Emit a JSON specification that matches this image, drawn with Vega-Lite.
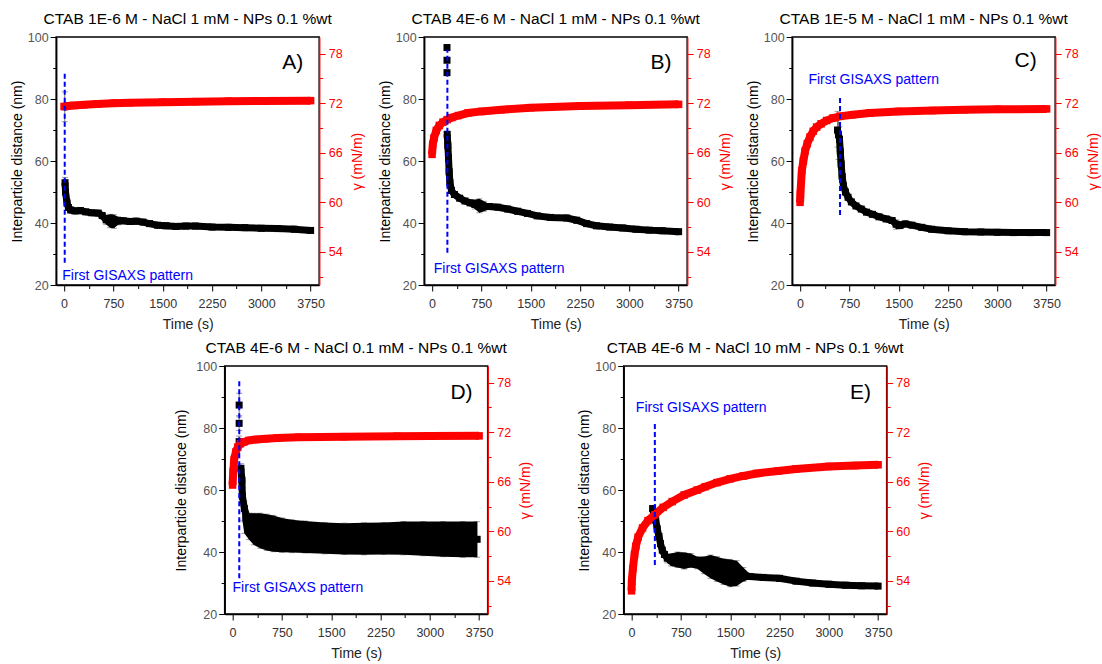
{
  "$schema": "https://vega.github.io/schema/vega-lite/v6.json",
  "background": "white",
  "padding": {"left": 9, "top": 10, "right": 0, "bottom": 0},
  "config": {
    "font": "Liberation Sans",
    "view": {"stroke": "#000", "strokeWidth": 1.5},
    "axis": {"grid": false, "domainColor": "#000", "domainWidth": 1.5, "tickColor": "#000", "tickWidth": 1, "labelFont": "Liberation Sans", "labelFontSize": 12.5, "labelColor": "#333", "titleFont": "Liberation Sans", "titleFontSize": 14, "titleFontWeight": "normal", "titleColor": "#000"},
    "title": {"font": "Liberation Sans", "fontSize": 15.5, "fontWeight": "normal", "color": "#000", "offset": 4}
  },
  "datasets": {
    "a_d": [
      {"t": 10, "d": 77.5, "lo": 72.7, "hi": 82.3},
      {"t": 15, "d": 53, "lo": 51.3, "hi": 54.7},
      {"t": 22, "d": 50, "lo": 48.8, "hi": 51.2},
      {"t": 45, "d": 46.5, "lo": 45.5, "hi": 47.5},
      {"t": 66, "d": 45, "lo": 44.2, "hi": 45.8},
      {"t": 100, "d": 44.2, "lo": 43.4, "hi": 45},
      {"t": 166, "d": 43.9, "lo": 43.1, "hi": 44.7},
      {"t": 250, "d": 44, "lo": 43.2, "hi": 44.8},
      {"t": 330, "d": 43.6, "lo": 42.8, "hi": 44.4},
      {"t": 420, "d": 43.3, "lo": 42.5, "hi": 44.1},
      {"t": 520, "d": 43.2, "lo": 42.4, "hi": 44},
      {"t": 580, "d": 42.4, "lo": 41.4, "hi": 43.4},
      {"t": 640, "d": 41, "lo": 39.5, "hi": 42.5},
      {"t": 700, "d": 40.6, "lo": 38.5, "hi": 42.8},
      {"t": 760, "d": 40.5, "lo": 38.3, "hi": 42.7},
      {"t": 820, "d": 40.7, "lo": 39.4, "hi": 42},
      {"t": 900, "d": 40.7, "lo": 39.9, "hi": 41.5},
      {"t": 1000, "d": 40.5, "lo": 39.7, "hi": 41.3},
      {"t": 1100, "d": 40.6, "lo": 39.8, "hi": 41.4},
      {"t": 1200, "d": 40.3, "lo": 39.5, "hi": 41.1},
      {"t": 1300, "d": 39.8, "lo": 39, "hi": 40.6},
      {"t": 1420, "d": 39.3, "lo": 38.5, "hi": 40.1},
      {"t": 1550, "d": 39.1, "lo": 38.3, "hi": 39.9},
      {"t": 1700, "d": 38.9, "lo": 38.1, "hi": 39.7},
      {"t": 1850, "d": 39, "lo": 38.2, "hi": 39.8},
      {"t": 2000, "d": 39, "lo": 38.2, "hi": 39.8},
      {"t": 2250, "d": 38.7, "lo": 37.9, "hi": 39.5},
      {"t": 2500, "d": 38.6, "lo": 37.8, "hi": 39.4},
      {"t": 2750, "d": 38.5, "lo": 37.7, "hi": 39.3},
      {"t": 3000, "d": 38.3, "lo": 37.5, "hi": 39.1},
      {"t": 3250, "d": 38.2, "lo": 37.4, "hi": 39},
      {"t": 3500, "d": 38, "lo": 37.2, "hi": 38.8},
      {"t": 3750, "d": 37.6, "lo": 36.8, "hi": 38.4}
    ],
    "a_g": [
      {"t": 0, "g": 71.6}, {"t": 50, "g": 71.65}, {"t": 150, "g": 71.72}, {"t": 300, "g": 71.8},
      {"t": 500, "g": 71.9}, {"t": 750, "g": 72.0}, {"t": 1000, "g": 72.05}, {"t": 1500, "g": 72.12},
      {"t": 2000, "g": 72.18}, {"t": 2500, "g": 72.23}, {"t": 3000, "g": 72.27}, {"t": 3750, "g": 72.3}
    ],
    "b_d": [
      {"t": 227, "d": 96.6, "lo": 96, "hi": 97.2},
      {"t": 227, "d": 92.5, "lo": 91.9, "hi": 93.1},
      {"t": 227, "d": 88.5, "lo": 87.9, "hi": 89.1},
      {"t": 230, "d": 68.6, "lo": 67.6, "hi": 69.6},
      {"t": 240, "d": 65, "lo": 64, "hi": 66},
      {"t": 250, "d": 61, "lo": 60, "hi": 62},
      {"t": 260, "d": 56.5, "lo": 55.5, "hi": 57.5},
      {"t": 272, "d": 53, "lo": 52, "hi": 54},
      {"t": 295, "d": 50.5, "lo": 49.7, "hi": 51.3},
      {"t": 340, "d": 49.2, "lo": 48.4, "hi": 50},
      {"t": 420, "d": 48, "lo": 47.2, "hi": 48.8},
      {"t": 500, "d": 47.1, "lo": 46.3, "hi": 47.9},
      {"t": 580, "d": 46.5, "lo": 45.7, "hi": 47.3},
      {"t": 650, "d": 46, "lo": 44.5, "hi": 47.5},
      {"t": 720, "d": 45.6, "lo": 43.3, "hi": 47.8},
      {"t": 790, "d": 45.3, "lo": 43.8, "hi": 47},
      {"t": 870, "d": 45.3, "lo": 44.5, "hi": 46.1},
      {"t": 1000, "d": 45.1, "lo": 44.3, "hi": 45.9},
      {"t": 1150, "d": 44.5, "lo": 43.7, "hi": 45.3},
      {"t": 1300, "d": 43.8, "lo": 43, "hi": 44.6},
      {"t": 1450, "d": 43.1, "lo": 42.3, "hi": 43.9},
      {"t": 1600, "d": 42.3, "lo": 41.5, "hi": 43.1},
      {"t": 1800, "d": 41.8, "lo": 41, "hi": 42.6},
      {"t": 2050, "d": 41.6, "lo": 40.8, "hi": 42.4},
      {"t": 2200, "d": 40.9, "lo": 40.1, "hi": 41.7},
      {"t": 2350, "d": 39.8, "lo": 39, "hi": 40.6},
      {"t": 2500, "d": 39.1, "lo": 38.3, "hi": 39.9},
      {"t": 2700, "d": 38.7, "lo": 37.9, "hi": 39.5},
      {"t": 2900, "d": 38.4, "lo": 37.6, "hi": 39.2},
      {"t": 3100, "d": 38, "lo": 37.2, "hi": 38.8},
      {"t": 3300, "d": 37.7, "lo": 36.9, "hi": 38.5},
      {"t": 3500, "d": 37.5, "lo": 36.7, "hi": 38.3},
      {"t": 3750, "d": 37.2, "lo": 36.4, "hi": 38}
    ],
    "b_g": [
      {"t": 0, "g": 65.8}, {"t": 10, "g": 67}, {"t": 30, "g": 67.8}, {"t": 65, "g": 68.7},
      {"t": 110, "g": 69.3}, {"t": 166, "g": 69.7}, {"t": 230, "g": 70}, {"t": 300, "g": 70.25},
      {"t": 400, "g": 70.5}, {"t": 544, "g": 70.8}, {"t": 750, "g": 71}, {"t": 1048, "g": 71.2},
      {"t": 1500, "g": 71.45}, {"t": 2250, "g": 71.65}, {"t": 3000, "g": 71.75}, {"t": 3750, "g": 71.85}
    ],
    "c_d": [
      {"t": 570, "d": 70, "lo": 64.5, "hi": 76},
      {"t": 585, "d": 68.5, "lo": 60.5, "hi": 75},
      {"t": 600, "d": 67, "lo": 63, "hi": 71},
      {"t": 612, "d": 63, "lo": 61.5, "hi": 64.5},
      {"t": 625, "d": 59, "lo": 58, "hi": 60},
      {"t": 640, "d": 55, "lo": 54, "hi": 56},
      {"t": 660, "d": 52, "lo": 51.2, "hi": 52.8},
      {"t": 690, "d": 50, "lo": 49.2, "hi": 50.8},
      {"t": 730, "d": 48.3, "lo": 47.5, "hi": 49.1},
      {"t": 780, "d": 46.8, "lo": 46, "hi": 47.6},
      {"t": 850, "d": 45.5, "lo": 44.7, "hi": 46.3},
      {"t": 930, "d": 44.5, "lo": 43.7, "hi": 45.3},
      {"t": 1010, "d": 43.5, "lo": 42.7, "hi": 44.3},
      {"t": 1100, "d": 42.8, "lo": 42, "hi": 43.6},
      {"t": 1200, "d": 42, "lo": 41.2, "hi": 42.8},
      {"t": 1310, "d": 41.3, "lo": 40.5, "hi": 42.1},
      {"t": 1400, "d": 40.8, "lo": 40, "hi": 41.6},
      {"t": 1460, "d": 39.6, "lo": 38, "hi": 41},
      {"t": 1520, "d": 39.2, "lo": 38.2, "hi": 40.5},
      {"t": 1600, "d": 39.7, "lo": 38.9, "hi": 40.5},
      {"t": 1700, "d": 39.3, "lo": 38.5, "hi": 40.1},
      {"t": 1850, "d": 38.6, "lo": 37.8, "hi": 39.4},
      {"t": 2000, "d": 38, "lo": 37.2, "hi": 38.8},
      {"t": 2250, "d": 37.5, "lo": 36.7, "hi": 38.3},
      {"t": 2500, "d": 37.2, "lo": 36.4, "hi": 38},
      {"t": 2750, "d": 37.1, "lo": 36.3, "hi": 37.9},
      {"t": 3000, "d": 37, "lo": 36.2, "hi": 37.8},
      {"t": 3250, "d": 36.9, "lo": 36.1, "hi": 37.7},
      {"t": 3500, "d": 36.9, "lo": 36.1, "hi": 37.7},
      {"t": 3750, "d": 36.9, "lo": 36.1, "hi": 37.7}
    ],
    "c_g": [
      {"t": 0, "g": 60}, {"t": 5, "g": 61}, {"t": 26, "g": 63.8}, {"t": 50, "g": 65},
      {"t": 76, "g": 66.2}, {"t": 110, "g": 67.1}, {"t": 151, "g": 67.9}, {"t": 200, "g": 68.6},
      {"t": 252, "g": 69.1}, {"t": 320, "g": 69.5}, {"t": 404, "g": 69.9}, {"t": 500, "g": 70.2},
      {"t": 605, "g": 70.4}, {"t": 800, "g": 70.6}, {"t": 1059, "g": 70.8}, {"t": 1500, "g": 71},
      {"t": 2017, "g": 71.1}, {"t": 2500, "g": 71.2}, {"t": 3000, "g": 71.25}, {"t": 3750, "g": 71.3}
    ],
    "d_d": [
      {"t": 100, "d": 87.4, "lo": 84, "hi": 91.2},
      {"t": 100, "d": 81.5, "lo": 79.2, "hi": 83.6},
      {"t": 100, "d": 75.6, "lo": 73.8, "hi": 77.4},
      {"t": 127, "d": 67, "lo": 65.5, "hi": 68.5},
      {"t": 142, "d": 63.2, "lo": 61.5, "hi": 65},
      {"t": 150, "d": 58, "lo": 50, "hi": 61},
      {"t": 180, "d": 54, "lo": 46, "hi": 56.5},
      {"t": 250, "d": 49, "lo": 44, "hi": 52.5},
      {"t": 320, "d": 47.5, "lo": 42.3, "hi": 52.5},
      {"t": 420, "d": 46.5, "lo": 41.2, "hi": 52.5},
      {"t": 520, "d": 45.8, "lo": 40.5, "hi": 52.2},
      {"t": 620, "d": 45.3, "lo": 40.1, "hi": 51.8},
      {"t": 750, "d": 45, "lo": 39.9, "hi": 51},
      {"t": 900, "d": 44.8, "lo": 39.8, "hi": 50.4},
      {"t": 1100, "d": 44.6, "lo": 39.7, "hi": 50},
      {"t": 1400, "d": 44.3, "lo": 39.4, "hi": 49.5},
      {"t": 1700, "d": 44.2, "lo": 39.2, "hi": 49.3},
      {"t": 2000, "d": 44.2, "lo": 39.1, "hi": 49.4},
      {"t": 2300, "d": 44.3, "lo": 39.2, "hi": 49.5},
      {"t": 2600, "d": 44.3, "lo": 39.1, "hi": 49.8},
      {"t": 2900, "d": 44.2, "lo": 38.8, "hi": 49.8},
      {"t": 3200, "d": 44.1, "lo": 38.5, "hi": 49.8},
      {"t": 3500, "d": 44, "lo": 38.3, "hi": 49.8},
      {"t": 3720, "d": 44.1, "lo": 38.3, "hi": 49.8}
    ],
    "d_g": [
      {"t": 0, "g": 65.6}, {"t": 10, "g": 67.2}, {"t": 25, "g": 68.7}, {"t": 50, "g": 69.6},
      {"t": 80, "g": 70.2}, {"t": 120, "g": 70.6}, {"t": 170, "g": 70.8}, {"t": 250, "g": 71},
      {"t": 350, "g": 71.1}, {"t": 500, "g": 71.2}, {"t": 684, "g": 71.3}, {"t": 1000, "g": 71.38},
      {"t": 1700, "g": 71.45}, {"t": 2500, "g": 71.5}, {"t": 3000, "g": 71.52}, {"t": 3750, "g": 71.55}
    ],
    "e_d": [
      {"t": 320, "d": 54, "lo": 53, "hi": 55},
      {"t": 335, "d": 53, "lo": 52.2, "hi": 53.8},
      {"t": 350, "d": 51.5, "lo": 50.7, "hi": 52.3},
      {"t": 367, "d": 50.3, "lo": 49.5, "hi": 51.1},
      {"t": 390, "d": 47.5, "lo": 46.7, "hi": 48.3},
      {"t": 417, "d": 45, "lo": 44.2, "hi": 45.8},
      {"t": 440, "d": 42.7, "lo": 41.9, "hi": 43.5},
      {"t": 467, "d": 40.6, "lo": 39.8, "hi": 41.4},
      {"t": 500, "d": 39.2, "lo": 38.4, "hi": 40},
      {"t": 543, "d": 38, "lo": 36.5, "hi": 39.2},
      {"t": 600, "d": 37.4, "lo": 35.5, "hi": 39.5},
      {"t": 700, "d": 37.2, "lo": 35, "hi": 40},
      {"t": 800, "d": 37, "lo": 34.5, "hi": 39.8},
      {"t": 900, "d": 37.2, "lo": 35, "hi": 39.5},
      {"t": 1000, "d": 36.5, "lo": 34.6, "hi": 38.5},
      {"t": 1100, "d": 36, "lo": 33, "hi": 38.5},
      {"t": 1200, "d": 35.4, "lo": 31.5, "hi": 39},
      {"t": 1300, "d": 34.6, "lo": 30.5, "hi": 38.5},
      {"t": 1400, "d": 33.5, "lo": 29.5, "hi": 37.8},
      {"t": 1500, "d": 33, "lo": 28.8, "hi": 37.6},
      {"t": 1600, "d": 32.8, "lo": 29, "hi": 37.2},
      {"t": 1700, "d": 32.5, "lo": 30.5, "hi": 35},
      {"t": 1800, "d": 32.1, "lo": 31.3, "hi": 32.9},
      {"t": 2000, "d": 31.8, "lo": 31, "hi": 32.6},
      {"t": 2250, "d": 31.5, "lo": 30.7, "hi": 32.3},
      {"t": 2500, "d": 30.6, "lo": 29.8, "hi": 31.4},
      {"t": 2750, "d": 30, "lo": 29.2, "hi": 30.8},
      {"t": 3000, "d": 29.6, "lo": 28.8, "hi": 30.4},
      {"t": 3250, "d": 29.3, "lo": 28.5, "hi": 30.1},
      {"t": 3500, "d": 29.1, "lo": 28.3, "hi": 29.9},
      {"t": 3750, "d": 29, "lo": 28.2, "hi": 29.8}
    ],
    "e_g": [
      {"t": 0, "g": 52.8}, {"t": 3, "g": 53.9}, {"t": 20, "g": 55.5}, {"t": 45, "g": 57.2},
      {"t": 65, "g": 58.2}, {"t": 100, "g": 59.3}, {"t": 166, "g": 60.4}, {"t": 250, "g": 61.3},
      {"t": 352, "g": 62}, {"t": 480, "g": 62.9}, {"t": 618, "g": 63.6}, {"t": 800, "g": 64.4},
      {"t": 1000, "g": 65}, {"t": 1121, "g": 65.4}, {"t": 1300, "g": 65.9}, {"t": 1500, "g": 66.35},
      {"t": 1700, "g": 66.7}, {"t": 1900, "g": 67}, {"t": 2227, "g": 67.3}, {"t": 2500, "g": 67.55},
      {"t": 3000, "g": 67.85}, {"t": 3400, "g": 67.95}, {"t": 3750, "g": 68.05}
    ],
    "notes": [
      {"panel": "A", "kind": "first", "t": 10, "lo": 27.2, "hi": 88.5},
      {"panel": "A", "kind": "caption", "t": -27, "d": 23, "text": "First GISAXS pattern"},
      {"panel": "A", "kind": "tag", "t": 3638, "d": 91.7, "text": "A)"},
      {"panel": "B", "kind": "first", "t": 233, "lo": 30.4, "hi": 96},
      {"panel": "B", "kind": "caption", "t": 26, "d": 25.1, "text": "First GISAXS pattern"},
      {"panel": "B", "kind": "tag", "t": 3640, "d": 91.7, "text": "B)"},
      {"panel": "C", "kind": "first", "t": 608, "lo": 42.6, "hi": 80.4},
      {"panel": "C", "kind": "caption", "t": 127, "d": 86, "text": "First GISAXS pattern"},
      {"panel": "C", "kind": "tag", "t": 3600, "d": 92.3, "text": "C)"},
      {"panel": "D", "kind": "first", "t": 102, "lo": 31.5, "hi": 96},
      {"panel": "D", "kind": "caption", "t": 0, "d": 28.3, "text": "First GISAXS pattern"},
      {"panel": "D", "kind": "tag", "t": 3650, "d": 91.4, "text": "D)"},
      {"panel": "E", "kind": "first", "t": 354, "lo": 35.8, "hi": 82},
      {"panel": "E", "kind": "caption", "t": 65, "d": 86.4, "text": "First GISAXS pattern"},
      {"panel": "E", "kind": "tag", "t": 3640, "d": 91.4, "text": "E)"}
    ]
  },
  "center": true,
  "spacing": 6,
  "vconcat": [
    {
      "spacing": 12,
      "hconcat": [
        {
          "title": "CTAB 1E-6 M - NaCl 1 mM - NPs 0.1 %wt",
          "width": 263, "height": 248,
          "encoding": {"x": {"field": "t", "type": "quantitative", "scale": {"domain": [-120, 3880], "nice": false, "zero": false}, "axis": {"title": "Time (s)", "titleColor": "#222", "values": [0, 375, 750, 1125, 1500, 1875, 2250, 2625, 3000, 3375, 3750], "format": "d", "labelExpr": "datum.value % 750 === 0 ? datum.label : ''", "tickSize": {"condition": {"test": "datum.value % 750 !== 0", "value": 3.5}, "value": 6}, "labelPadding": 6, "titlePadding": 8}}},
          "layer": [
            {"data": {"name": "a_d"}, "mark": {"type": "rule", "color": "#777", "strokeWidth": 1}, "encoding": {"y": {"field": "lo", "type": "quantitative", "scale": {"domain": [20, 100], "nice": false, "zero": false}, "axis": {"orient": "left", "title": "Interparticle distance (nm)", "values": [20, 30, 40, 50, 60, 70, 80, 90, 100], "labelExpr": "datum.value % 20 === 0 ? datum.label : ''", "tickSize": {"condition": {"test": "datum.value % 20 !== 0", "value": 3.5}, "value": 6}, "labelColor": "#555", "labelPadding": 2, "titlePadding": 3}}, "y2": {"field": "hi"}}},
            {"data": {"name": "a_d"}, "mark": {"type": "tick", "orient": "horizontal", "color": "#777", "thickness": 1, "size": 6}, "encoding": {"y": {"field": "lo", "type": "quantitative", "scale": {"domain": [20, 100], "nice": false, "zero": false}, "axis": null}}},
            {"data": {"name": "a_d"}, "mark": {"type": "tick", "orient": "horizontal", "color": "#777", "thickness": 1, "size": 6}, "encoding": {"y": {"field": "hi", "type": "quantitative", "scale": {"domain": [20, 100], "nice": false, "zero": false}, "axis": null}}},
            {"data": {"name": "a_d"}, "transform": [{"filter": "datum.d < 60"}], "mark": {"type": "area", "color": "#000", "opacity": 1}, "encoding": {"y": {"field": "lo", "type": "quantitative", "scale": {"domain": [20, 100], "nice": false, "zero": false}, "axis": null}, "y2": {"field": "hi"}}},
            {"data": {"name": "a_d"}, "transform": [{"filter": "datum.d < 60"}], "mark": {"type": "line", "color": "#000", "strokeWidth": 7}, "encoding": {"y": {"field": "d", "type": "quantitative", "scale": {"domain": [20, 100], "nice": false, "zero": false}, "axis": null}}},
            {"data": {"name": "a_d"}, "mark": {"type": "point", "shape": "square", "filled": true, "color": "#000", "size": 49, "opacity": 1}, "encoding": {"y": {"field": "d", "type": "quantitative", "scale": {"domain": [20, 100], "nice": false, "zero": false}, "axis": null}}},
            {"data": {"name": "a_g"}, "mark": {"type": "line", "color": "#ff0000", "strokeWidth": 8}, "encoding": {"y": {"field": "g", "type": "quantitative", "scale": {"domain": [50, 80], "nice": false, "zero": false}, "axis": {"orient": "right", "title": "γ (mN/m)", "values": [51, 54, 57, 60, 63, 66, 69, 72, 75, 78], "labelExpr": "(datum.value - 54) % 6 === 0 ? datum.label : ''", "tickSize": {"condition": {"test": "(datum.value - 54) % 6 !== 0", "value": 3.5}, "value": 6}, "domainColor": "#ff0000", "tickColor": "#ff0000", "labelColor": "#ff0000", "titleColor": "#ff0000", "titleAngle": -90, "titleBaseline": "top", "labelPadding": 3, "titlePadding": 8}}}},
            {"data": {"name": "a_g"}, "mark": {"type": "point", "shape": "square", "filled": true, "color": "#ff0000", "size": 56, "opacity": 1}, "encoding": {"y": {"field": "g", "type": "quantitative", "scale": {"domain": [50, 80], "nice": false, "zero": false}, "axis": null}}},
            {"data": {"name": "notes"}, "transform": [{"filter": "datum.panel === 'A' && datum.kind === 'first'"}], "mark": {"type": "rule", "color": "#0000ff", "strokeWidth": 2, "strokeDash": [5, 3]}, "encoding": {"y": {"field": "lo", "type": "quantitative", "scale": {"domain": [20, 100], "nice": false, "zero": false}, "axis": null}, "y2": {"field": "hi"}}},
            {"data": {"name": "notes"}, "transform": [{"filter": "datum.panel === 'A' && datum.kind === 'caption'"}], "mark": {"type": "text", "color": "#0000ff", "fontSize": 14, "align": "left", "baseline": "middle"}, "encoding": {"y": {"field": "d", "type": "quantitative", "scale": {"domain": [20, 100], "nice": false, "zero": false}, "axis": null}, "text": {"field": "text"}}},
            {"data": {"name": "notes"}, "transform": [{"filter": "datum.panel === 'A' && datum.kind === 'tag'"}], "mark": {"type": "text", "color": "#000", "fontSize": 21, "align": "right", "baseline": "middle"}, "encoding": {"y": {"field": "d", "type": "quantitative", "scale": {"domain": [20, 100], "nice": false, "zero": false}, "axis": null}, "text": {"field": "text"}}}
          ],
          "resolve": {"scale": {"y": "independent"}}
        },
        {
          "title": "CTAB 4E-6 M - NaCl 1 mM - NPs 0.1 %wt",
          "width": 263, "height": 248,
          "encoding": {"x": {"field": "t", "type": "quantitative", "scale": {"domain": [-120, 3880], "nice": false, "zero": false}, "axis": {"title": "Time (s)", "titleColor": "#222", "values": [0, 375, 750, 1125, 1500, 1875, 2250, 2625, 3000, 3375, 3750], "format": "d", "labelExpr": "datum.value % 750 === 0 ? datum.label : ''", "tickSize": {"condition": {"test": "datum.value % 750 !== 0", "value": 3.5}, "value": 6}, "labelPadding": 6, "titlePadding": 8}}},
          "layer": [
            {"data": {"name": "b_d"}, "mark": {"type": "rule", "color": "#777", "strokeWidth": 1}, "encoding": {"y": {"field": "lo", "type": "quantitative", "scale": {"domain": [20, 100], "nice": false, "zero": false}, "axis": {"orient": "left", "title": "Interparticle distance (nm)", "values": [20, 30, 40, 50, 60, 70, 80, 90, 100], "labelExpr": "datum.value % 20 === 0 ? datum.label : ''", "tickSize": {"condition": {"test": "datum.value % 20 !== 0", "value": 3.5}, "value": 6}, "labelColor": "#555", "labelPadding": 2, "titlePadding": 3}}, "y2": {"field": "hi"}}},
            {"data": {"name": "b_d"}, "mark": {"type": "tick", "orient": "horizontal", "color": "#777", "thickness": 1, "size": 6}, "encoding": {"y": {"field": "lo", "type": "quantitative", "scale": {"domain": [20, 100], "nice": false, "zero": false}, "axis": null}}},
            {"data": {"name": "b_d"}, "mark": {"type": "tick", "orient": "horizontal", "color": "#777", "thickness": 1, "size": 6}, "encoding": {"y": {"field": "hi", "type": "quantitative", "scale": {"domain": [20, 100], "nice": false, "zero": false}, "axis": null}}},
            {"data": {"name": "b_d"}, "transform": [{"filter": "datum.d < 80"}], "mark": {"type": "area", "color": "#000", "opacity": 1}, "encoding": {"y": {"field": "lo", "type": "quantitative", "scale": {"domain": [20, 100], "nice": false, "zero": false}, "axis": null}, "y2": {"field": "hi"}}},
            {"data": {"name": "b_d"}, "transform": [{"filter": "datum.d < 80"}], "mark": {"type": "line", "color": "#000", "strokeWidth": 7}, "encoding": {"y": {"field": "d", "type": "quantitative", "scale": {"domain": [20, 100], "nice": false, "zero": false}, "axis": null}}},
            {"data": {"name": "b_d"}, "mark": {"type": "point", "shape": "square", "filled": true, "color": "#000", "size": 49, "opacity": 1}, "encoding": {"y": {"field": "d", "type": "quantitative", "scale": {"domain": [20, 100], "nice": false, "zero": false}, "axis": null}}},
            {"data": {"name": "b_g"}, "mark": {"type": "line", "color": "#ff0000", "strokeWidth": 8}, "encoding": {"y": {"field": "g", "type": "quantitative", "scale": {"domain": [50, 80], "nice": false, "zero": false}, "axis": {"orient": "right", "title": "γ (mN/m)", "values": [51, 54, 57, 60, 63, 66, 69, 72, 75, 78], "labelExpr": "(datum.value - 54) % 6 === 0 ? datum.label : ''", "tickSize": {"condition": {"test": "(datum.value - 54) % 6 !== 0", "value": 3.5}, "value": 6}, "domainColor": "#ff0000", "tickColor": "#ff0000", "labelColor": "#ff0000", "titleColor": "#ff0000", "titleAngle": -90, "titleBaseline": "top", "labelPadding": 3, "titlePadding": 8}}}},
            {"data": {"name": "b_g"}, "mark": {"type": "point", "shape": "square", "filled": true, "color": "#ff0000", "size": 56, "opacity": 1}, "encoding": {"y": {"field": "g", "type": "quantitative", "scale": {"domain": [50, 80], "nice": false, "zero": false}, "axis": null}}},
            {"data": {"name": "notes"}, "transform": [{"filter": "datum.panel === 'B' && datum.kind === 'first'"}], "mark": {"type": "rule", "color": "#0000ff", "strokeWidth": 2, "strokeDash": [5, 3]}, "encoding": {"y": {"field": "lo", "type": "quantitative", "scale": {"domain": [20, 100], "nice": false, "zero": false}, "axis": null}, "y2": {"field": "hi"}}},
            {"data": {"name": "notes"}, "transform": [{"filter": "datum.panel === 'B' && datum.kind === 'caption'"}], "mark": {"type": "text", "color": "#0000ff", "fontSize": 14, "align": "left", "baseline": "middle"}, "encoding": {"y": {"field": "d", "type": "quantitative", "scale": {"domain": [20, 100], "nice": false, "zero": false}, "axis": null}, "text": {"field": "text"}}},
            {"data": {"name": "notes"}, "transform": [{"filter": "datum.panel === 'B' && datum.kind === 'tag'"}], "mark": {"type": "text", "color": "#000", "fontSize": 21, "align": "right", "baseline": "middle"}, "encoding": {"y": {"field": "d", "type": "quantitative", "scale": {"domain": [20, 100], "nice": false, "zero": false}, "axis": null}, "text": {"field": "text"}}}
          ],
          "resolve": {"scale": {"y": "independent"}}
        },
        {
          "title": "CTAB 1E-5 M - NaCl 1 mM - NPs 0.1 %wt",
          "width": 263, "height": 248,
          "encoding": {"x": {"field": "t", "type": "quantitative", "scale": {"domain": [-120, 3880], "nice": false, "zero": false}, "axis": {"title": "Time (s)", "titleColor": "#222", "values": [0, 375, 750, 1125, 1500, 1875, 2250, 2625, 3000, 3375, 3750], "format": "d", "labelExpr": "datum.value % 750 === 0 ? datum.label : ''", "tickSize": {"condition": {"test": "datum.value % 750 !== 0", "value": 3.5}, "value": 6}, "labelPadding": 6, "titlePadding": 8}}},
          "layer": [
            {"data": {"name": "c_d"}, "mark": {"type": "rule", "color": "#777", "strokeWidth": 1}, "encoding": {"y": {"field": "lo", "type": "quantitative", "scale": {"domain": [20, 100], "nice": false, "zero": false}, "axis": {"orient": "left", "title": "Interparticle distance (nm)", "values": [20, 30, 40, 50, 60, 70, 80, 90, 100], "labelExpr": "datum.value % 20 === 0 ? datum.label : ''", "tickSize": {"condition": {"test": "datum.value % 20 !== 0", "value": 3.5}, "value": 6}, "labelColor": "#555", "labelPadding": 2, "titlePadding": 3}}, "y2": {"field": "hi"}}},
            {"data": {"name": "c_d"}, "mark": {"type": "tick", "orient": "horizontal", "color": "#777", "thickness": 1, "size": 6}, "encoding": {"y": {"field": "lo", "type": "quantitative", "scale": {"domain": [20, 100], "nice": false, "zero": false}, "axis": null}}},
            {"data": {"name": "c_d"}, "mark": {"type": "tick", "orient": "horizontal", "color": "#777", "thickness": 1, "size": 6}, "encoding": {"y": {"field": "hi", "type": "quantitative", "scale": {"domain": [20, 100], "nice": false, "zero": false}, "axis": null}}},
            {"data": {"name": "c_d"}, "transform": [{"filter": "datum.t > 605"}], "mark": {"type": "area", "color": "#000", "opacity": 1}, "encoding": {"y": {"field": "lo", "type": "quantitative", "scale": {"domain": [20, 100], "nice": false, "zero": false}, "axis": null}, "y2": {"field": "hi"}}},
            {"data": {"name": "c_d"}, "mark": {"type": "line", "color": "#000", "strokeWidth": 7}, "encoding": {"y": {"field": "d", "type": "quantitative", "scale": {"domain": [20, 100], "nice": false, "zero": false}, "axis": null}}},
            {"data": {"name": "c_d"}, "mark": {"type": "point", "shape": "square", "filled": true, "color": "#000", "size": 49, "opacity": 1}, "encoding": {"y": {"field": "d", "type": "quantitative", "scale": {"domain": [20, 100], "nice": false, "zero": false}, "axis": null}}},
            {"data": {"name": "c_g"}, "mark": {"type": "line", "color": "#ff0000", "strokeWidth": 8}, "encoding": {"y": {"field": "g", "type": "quantitative", "scale": {"domain": [50, 80], "nice": false, "zero": false}, "axis": {"orient": "right", "title": "γ (mN/m)", "values": [51, 54, 57, 60, 63, 66, 69, 72, 75, 78], "labelExpr": "(datum.value - 54) % 6 === 0 ? datum.label : ''", "tickSize": {"condition": {"test": "(datum.value - 54) % 6 !== 0", "value": 3.5}, "value": 6}, "domainColor": "#ff0000", "tickColor": "#ff0000", "labelColor": "#ff0000", "titleColor": "#ff0000", "titleAngle": -90, "titleBaseline": "top", "labelPadding": 3, "titlePadding": 8}}}},
            {"data": {"name": "c_g"}, "mark": {"type": "point", "shape": "square", "filled": true, "color": "#ff0000", "size": 56, "opacity": 1}, "encoding": {"y": {"field": "g", "type": "quantitative", "scale": {"domain": [50, 80], "nice": false, "zero": false}, "axis": null}}},
            {"data": {"name": "notes"}, "transform": [{"filter": "datum.panel === 'C' && datum.kind === 'first'"}], "mark": {"type": "rule", "color": "#0000ff", "strokeWidth": 2, "strokeDash": [5, 3]}, "encoding": {"y": {"field": "lo", "type": "quantitative", "scale": {"domain": [20, 100], "nice": false, "zero": false}, "axis": null}, "y2": {"field": "hi"}}},
            {"data": {"name": "notes"}, "transform": [{"filter": "datum.panel === 'C' && datum.kind === 'caption'"}], "mark": {"type": "text", "color": "#0000ff", "fontSize": 14, "align": "left", "baseline": "middle"}, "encoding": {"y": {"field": "d", "type": "quantitative", "scale": {"domain": [20, 100], "nice": false, "zero": false}, "axis": null}, "text": {"field": "text"}}},
            {"data": {"name": "notes"}, "transform": [{"filter": "datum.panel === 'C' && datum.kind === 'tag'"}], "mark": {"type": "text", "color": "#000", "fontSize": 21, "align": "right", "baseline": "middle"}, "encoding": {"y": {"field": "d", "type": "quantitative", "scale": {"domain": [20, 100], "nice": false, "zero": false}, "axis": null}, "text": {"field": "text"}}}
          ],
          "resolve": {"scale": {"y": "independent"}}
        }
      ]
    },
    {
      "spacing": 43,
      "hconcat": [
        {
          "title": "CTAB 4E-6 M - NaCl 0.1 mM - NPs 0.1 %wt",
          "width": 263, "height": 248,
          "encoding": {"x": {"field": "t", "type": "quantitative", "scale": {"domain": [-120, 3880], "nice": false, "zero": false}, "axis": {"title": "Time (s)", "titleColor": "#222", "values": [0, 375, 750, 1125, 1500, 1875, 2250, 2625, 3000, 3375, 3750], "format": "d", "labelExpr": "datum.value % 750 === 0 ? datum.label : ''", "tickSize": {"condition": {"test": "datum.value % 750 !== 0", "value": 3.5}, "value": 6}, "labelPadding": 6, "titlePadding": 8}}},
          "layer": [
            {"data": {"name": "d_d"}, "mark": {"type": "rule", "color": "#777", "strokeWidth": 1}, "encoding": {"y": {"field": "lo", "type": "quantitative", "scale": {"domain": [20, 100], "nice": false, "zero": false}, "axis": {"orient": "left", "title": "Interparticle distance (nm)", "values": [20, 30, 40, 50, 60, 70, 80, 90, 100], "labelExpr": "datum.value % 20 === 0 ? datum.label : ''", "tickSize": {"condition": {"test": "datum.value % 20 !== 0", "value": 3.5}, "value": 6}, "labelColor": "#555", "labelPadding": 2, "titlePadding": 7}}, "y2": {"field": "hi"}}},
            {"data": {"name": "d_d"}, "mark": {"type": "tick", "orient": "horizontal", "color": "#777", "thickness": 1, "size": 6}, "encoding": {"y": {"field": "lo", "type": "quantitative", "scale": {"domain": [20, 100], "nice": false, "zero": false}, "axis": null}}},
            {"data": {"name": "d_d"}, "mark": {"type": "tick", "orient": "horizontal", "color": "#777", "thickness": 1, "size": 6}, "encoding": {"y": {"field": "hi", "type": "quantitative", "scale": {"domain": [20, 100], "nice": false, "zero": false}, "axis": null}}},
            {"data": {"name": "d_d"}, "transform": [{"filter": "datum.t > 140"}], "mark": {"type": "area", "color": "#000", "opacity": 1}, "encoding": {"y": {"field": "lo", "type": "quantitative", "scale": {"domain": [20, 100], "nice": false, "zero": false}, "axis": null}, "y2": {"field": "hi"}}},
            {"data": {"name": "d_d"}, "transform": [{"filter": "datum.d < 70"}], "mark": {"type": "line", "color": "#000", "strokeWidth": 7}, "encoding": {"y": {"field": "d", "type": "quantitative", "scale": {"domain": [20, 100], "nice": false, "zero": false}, "axis": null}}},
            {"data": {"name": "d_d"}, "mark": {"type": "point", "shape": "square", "filled": true, "color": "#000", "size": 49, "opacity": 1}, "encoding": {"y": {"field": "d", "type": "quantitative", "scale": {"domain": [20, 100], "nice": false, "zero": false}, "axis": null}}},
            {"data": {"name": "d_g"}, "mark": {"type": "line", "color": "#ff0000", "strokeWidth": 8}, "encoding": {"y": {"field": "g", "type": "quantitative", "scale": {"domain": [50, 80], "nice": false, "zero": false}, "axis": {"orient": "right", "title": "γ (mN/m)", "values": [51, 54, 57, 60, 63, 66, 69, 72, 75, 78], "labelExpr": "(datum.value - 54) % 6 === 0 ? datum.label : ''", "tickSize": {"condition": {"test": "(datum.value - 54) % 6 !== 0", "value": 3.5}, "value": 6}, "domainColor": "#ff0000", "tickColor": "#ff0000", "labelColor": "#ff0000", "titleColor": "#ff0000", "titleAngle": -90, "titleBaseline": "top", "labelPadding": 3, "titlePadding": 8}}}},
            {"data": {"name": "d_g"}, "mark": {"type": "point", "shape": "square", "filled": true, "color": "#ff0000", "size": 56, "opacity": 1}, "encoding": {"y": {"field": "g", "type": "quantitative", "scale": {"domain": [50, 80], "nice": false, "zero": false}, "axis": null}}},
            {"data": {"name": "notes"}, "transform": [{"filter": "datum.panel === 'D' && datum.kind === 'first'"}], "mark": {"type": "rule", "color": "#0000ff", "strokeWidth": 2, "strokeDash": [5, 3]}, "encoding": {"y": {"field": "lo", "type": "quantitative", "scale": {"domain": [20, 100], "nice": false, "zero": false}, "axis": null}, "y2": {"field": "hi"}}},
            {"data": {"name": "notes"}, "transform": [{"filter": "datum.panel === 'D' && datum.kind === 'caption'"}], "mark": {"type": "text", "color": "#0000ff", "fontSize": 14, "align": "left", "baseline": "middle"}, "encoding": {"y": {"field": "d", "type": "quantitative", "scale": {"domain": [20, 100], "nice": false, "zero": false}, "axis": null}, "text": {"field": "text"}}},
            {"data": {"name": "notes"}, "transform": [{"filter": "datum.panel === 'D' && datum.kind === 'tag'"}], "mark": {"type": "text", "color": "#000", "fontSize": 21, "align": "right", "baseline": "middle"}, "encoding": {"y": {"field": "d", "type": "quantitative", "scale": {"domain": [20, 100], "nice": false, "zero": false}, "axis": null}, "text": {"field": "text"}}}
          ],
          "resolve": {"scale": {"y": "independent"}}
        },
        {
          "title": "CTAB 4E-6 M - NaCl 10 mM - NPs 0.1 %wt",
          "width": 263, "height": 248,
          "encoding": {"x": {"field": "t", "type": "quantitative", "scale": {"domain": [-120, 3880], "nice": false, "zero": false}, "axis": {"title": "Time (s)", "titleColor": "#222", "values": [0, 375, 750, 1125, 1500, 1875, 2250, 2625, 3000, 3375, 3750], "format": "d", "labelExpr": "datum.value % 750 === 0 ? datum.label : ''", "tickSize": {"condition": {"test": "datum.value % 750 !== 0", "value": 3.5}, "value": 6}, "labelPadding": 6, "titlePadding": 8}}},
          "layer": [
            {"data": {"name": "e_d"}, "mark": {"type": "rule", "color": "#777", "strokeWidth": 1}, "encoding": {"y": {"field": "lo", "type": "quantitative", "scale": {"domain": [20, 100], "nice": false, "zero": false}, "axis": {"orient": "left", "title": "Interparticle distance (nm)", "values": [20, 30, 40, 50, 60, 70, 80, 90, 100], "labelExpr": "datum.value % 20 === 0 ? datum.label : ''", "tickSize": {"condition": {"test": "datum.value % 20 !== 0", "value": 3.5}, "value": 6}, "labelColor": "#555", "labelPadding": 2, "titlePadding": 3}}, "y2": {"field": "hi"}}},
            {"data": {"name": "e_d"}, "mark": {"type": "tick", "orient": "horizontal", "color": "#777", "thickness": 1, "size": 6}, "encoding": {"y": {"field": "lo", "type": "quantitative", "scale": {"domain": [20, 100], "nice": false, "zero": false}, "axis": null}}},
            {"data": {"name": "e_d"}, "mark": {"type": "tick", "orient": "horizontal", "color": "#777", "thickness": 1, "size": 6}, "encoding": {"y": {"field": "hi", "type": "quantitative", "scale": {"domain": [20, 100], "nice": false, "zero": false}, "axis": null}}},
            {"data": {"name": "e_d"}, "mark": {"type": "area", "color": "#000", "opacity": 1}, "encoding": {"y": {"field": "lo", "type": "quantitative", "scale": {"domain": [20, 100], "nice": false, "zero": false}, "axis": null}, "y2": {"field": "hi"}}},
            {"data": {"name": "e_d"}, "mark": {"type": "line", "color": "#000", "strokeWidth": 7}, "encoding": {"y": {"field": "d", "type": "quantitative", "scale": {"domain": [20, 100], "nice": false, "zero": false}, "axis": null}}},
            {"data": {"name": "e_d"}, "mark": {"type": "point", "shape": "square", "filled": true, "color": "#000", "size": 49, "opacity": 1}, "encoding": {"y": {"field": "d", "type": "quantitative", "scale": {"domain": [20, 100], "nice": false, "zero": false}, "axis": null}}},
            {"data": {"name": "e_g"}, "mark": {"type": "line", "color": "#ff0000", "strokeWidth": 8}, "encoding": {"y": {"field": "g", "type": "quantitative", "scale": {"domain": [50, 80], "nice": false, "zero": false}, "axis": {"orient": "right", "title": "γ (mN/m)", "values": [51, 54, 57, 60, 63, 66, 69, 72, 75, 78], "labelExpr": "(datum.value - 54) % 6 === 0 ? datum.label : ''", "tickSize": {"condition": {"test": "(datum.value - 54) % 6 !== 0", "value": 3.5}, "value": 6}, "domainColor": "#ff0000", "tickColor": "#ff0000", "labelColor": "#ff0000", "titleColor": "#ff0000", "titleAngle": -90, "titleBaseline": "top", "labelPadding": 3, "titlePadding": 8}}}},
            {"data": {"name": "e_g"}, "mark": {"type": "point", "shape": "square", "filled": true, "color": "#ff0000", "size": 56, "opacity": 1}, "encoding": {"y": {"field": "g", "type": "quantitative", "scale": {"domain": [50, 80], "nice": false, "zero": false}, "axis": null}}},
            {"data": {"name": "notes"}, "transform": [{"filter": "datum.panel === 'E' && datum.kind === 'first'"}], "mark": {"type": "rule", "color": "#0000ff", "strokeWidth": 2, "strokeDash": [5, 3]}, "encoding": {"y": {"field": "lo", "type": "quantitative", "scale": {"domain": [20, 100], "nice": false, "zero": false}, "axis": null}, "y2": {"field": "hi"}}},
            {"data": {"name": "notes"}, "transform": [{"filter": "datum.panel === 'E' && datum.kind === 'caption'"}], "mark": {"type": "text", "color": "#0000ff", "fontSize": 14, "align": "left", "baseline": "middle"}, "encoding": {"y": {"field": "d", "type": "quantitative", "scale": {"domain": [20, 100], "nice": false, "zero": false}, "axis": null}, "text": {"field": "text"}}},
            {"data": {"name": "notes"}, "transform": [{"filter": "datum.panel === 'E' && datum.kind === 'tag'"}], "mark": {"type": "text", "color": "#000", "fontSize": 21, "align": "right", "baseline": "middle"}, "encoding": {"y": {"field": "d", "type": "quantitative", "scale": {"domain": [20, 100], "nice": false, "zero": false}, "axis": null}, "text": {"field": "text"}}}
          ],
          "resolve": {"scale": {"y": "independent"}}
        }
      ]
    }
  ]
}
